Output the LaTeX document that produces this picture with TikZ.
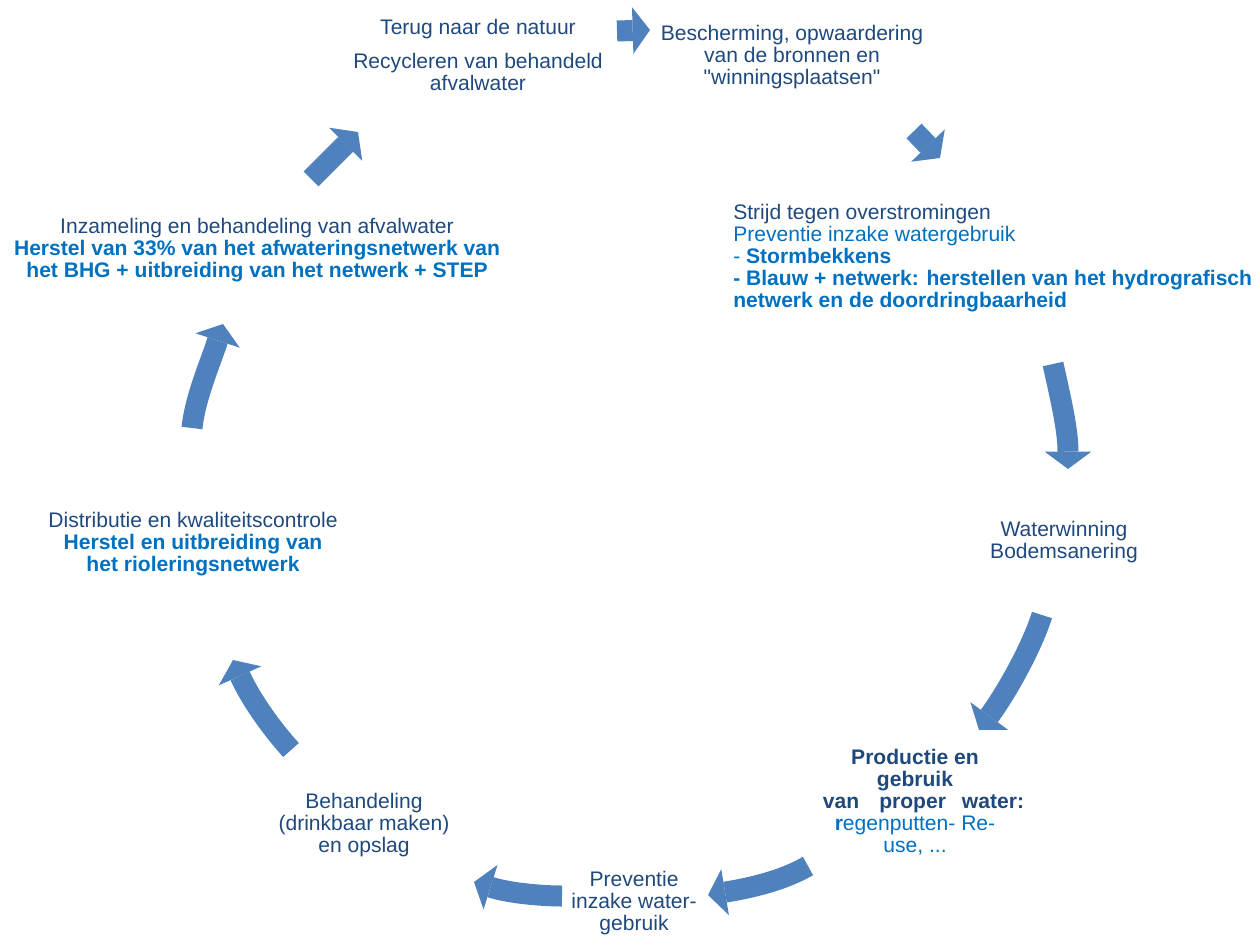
\documentclass[tikz,border=0pt]{standalone}
\usepackage{fontspec}
\setmainfont{Liberation Sans}
\newfontfamily\rechtfont{Liberation Sans}
\usetikzlibrary{arrows.meta}
\definecolor{donker}{HTML}{1F497D}
\definecolor{helder}{HTML}{0070C0}
\definecolor{pijlblauw}{HTML}{4F81BD}
\begin{document}
\begin{tikzpicture}[x=0.75pt,y=-0.75pt,font=\fontsize{15.8}{16.5}\selectfont,
		pijl/.style={pijlblauw,line width=15.75pt,-{Triangle[width=35pt,length=13pt,line width=0pt]}},
		tekst/.style={inner sep=0pt,align=center,text=donker}]
%			\draw[dashed,thin,gray] (0,0) grid[step=75pt] (1259,938);
			\useasboundingbox (0,0) rectangle (1259,938);
			% teksten
			\node[tekst] (natuur) at (478,55) {Terug naar de natuur\\[9.5pt]Recycleren van behandeld\\afvalwater};
			\node[tekst] (bronnen) at (792,57) {Bescherming, opwaardering\\van de bronnen en\\{\rechtfont"winningsplaatsen"}};
			\node[tekst,align=left,anchor=west] (overstroming) at (733,258) {Strijd tegen overstromingen\\
				\textcolor{helder}{Preventie inzake watergebruik}\\
				\textcolor{helder}{- \textbf{Stormbekkens}}\\
				\textcolor{helder}{\textbf{- Blauw + netwerk: herstellen van het hydrografisch}}\\
				\textcolor{helder}{\textbf{netwerk en de doordringbaarheid}}};
			\node[tekst] (winning) at (1064,542) {Waterwinning\\Bodemsanering};
			\node[tekst] (productie) at (915,802) {\textbf{Productie en}\\\textbf{gebruik}\\
				\hspace*{12.75pt}\textbf{van\hspace{15pt}proper\hspace{12pt}water:}\\
				\textcolor{helder}{\textbf{r}egenputten- Re-}\\\textcolor{helder}{use, ...}};
			\node[tekst] (preventie) at (634,903) {Preventie\\inzake water-\\gebruik};
			\node[tekst] (behandeling) at (364,825) {Behandeling\\(drinkbaar maken)\\en opslag};
			\node[tekst] (distributie) at (193,544) {Distributie en kwaliteitscontrole\\
				\textcolor{helder}{\textbf{Herstel en uitbreiding van}}\\\textcolor{helder}{\textbf{het rioleringsnetwerk}}};
			\node[tekst] (inzameling) at (257,250) {Inzameling en behandeling van afvalwater\\
				\textcolor{helder}{\textbf{Herstel van 33\% van het afwateringsnetwerk van}}\\
				\textcolor{helder}{\textbf{het BHG + uitbreiding van het netwerk + STEP}}};
			% pijlen
			\coordinate (p1a) at (617,31);   \coordinate (p1b) at (650,30);
			\coordinate (p2a) at (914,131);  \coordinate (p2b) at (940,158);
			\coordinate (p3a) at (1053,364); \coordinate (p3b) at (1068,469);
			\coordinate (p4a) at (1042,615); \coordinate (p4b) at (979,730);
			\coordinate (p5a) at (808,866);  \coordinate (p5b) at (708,895);
			\coordinate (p6a) at (562,896);  \coordinate (p6b) at (474,882);
			\coordinate (p7a) at (291,750);  \coordinate (p7b) at (233,660);
			\coordinate (p8a) at (192,428);  \coordinate (p8b) at (223,324);
			\coordinate (p9a) at (311,179);  \coordinate (p9b) at (358,132);
			\draw[pijl] (p1a)--(p1b);
			\draw[pijl] (p2a)--(p2b);
			\draw[pijl] (p3a) .. controls (1061,400) and (1068,430) .. (p3b);
			\draw[pijl] (p4a) .. controls (1033,644) and (1009,689) .. (p4b);
			\draw[pijl] (p5a) .. controls (782,881) and (750,888) .. (p5b);
			\draw[pijl] (p6a) .. controls (540,896) and (509,893) .. (p6b);
			\draw[pijl] (p7a) .. controls (271,728) and (250,698) .. (p7b);
			\draw[pijl] (p8a) .. controls (195,398) and (210,364) .. (p8b);
			\draw[pijl] (p9a)--(p9b);
		\end{tikzpicture}
\end{document}
